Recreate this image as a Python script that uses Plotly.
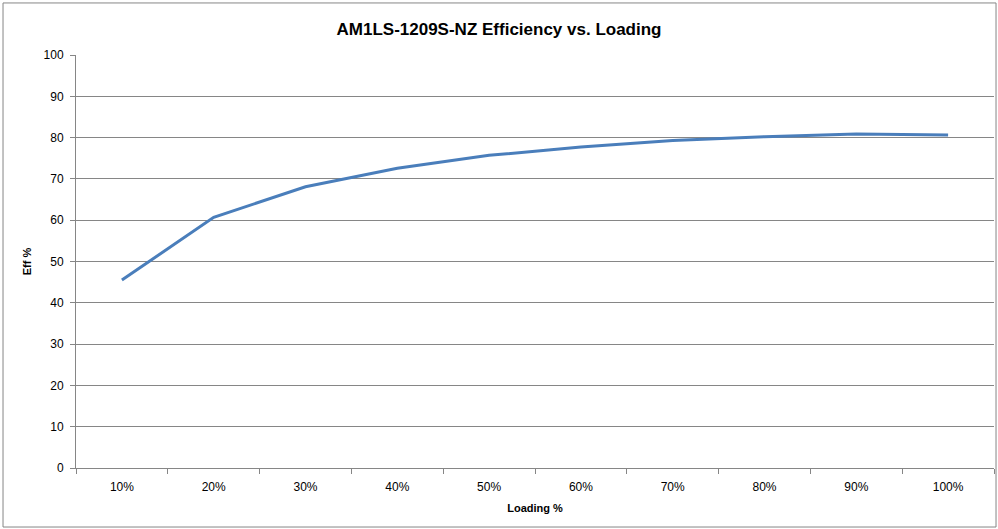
import plotly.graph_objects as go

categories = ["10%", "20%", "30%", "40%", "50%", "60%", "70%", "80%", "90%", "100%"]
efficiency = [45.5, 60.7, 68.1, 72.6, 75.7, 77.7, 79.3, 80.2, 80.9, 80.6]

font_family = "Liberation Sans Narrow, Arial Narrow, sans-serif"

fig = go.Figure()
fig.add_trace(go.Scatter(
    x=categories, y=efficiency, mode="lines",
    line=dict(color="#4a7ebb", width=3), showlegend=False,
))

fig.update_layout(
    width=998, height=529,
    margin=dict(l=76, r=4, t=55, b=61, autoexpand=False),
    paper_bgcolor="white", plot_bgcolor="white",
    title=dict(text="<b>AM1LS-1209S-NZ Efficiency vs. Loading</b>",
               font=dict(family=font_family, size=17, color="#000"),
               x=0.5, xanchor="center", y=0.946, yanchor="middle"),
    font=dict(family=font_family, size=12, color="#000"),
    xaxis=dict(type="category", tickson="boundaries", ticks="outside", ticklen=5,
               range=[-0.5, 9.5], automargin=False, ticklabelstandoff=8,
               tickcolor="#868686", showline=True, linecolor="#868686", linewidth=1,
               showgrid=False, tickfont=dict(size=12),
               title=dict(text="<b>Loading %</b>", font=dict(size=11), standoff=10)),
    yaxis=dict(range=[0, 100], dtick=10, ticks="outside", ticklen=5, automargin=False,
               ticklabelstandoff=4,
               tickcolor="#868686", showline=True, linecolor="#868686", linewidth=1,
               showgrid=True, gridcolor="#868686", gridwidth=1, zeroline=False,
               tickfont=dict(size=12),
               title=dict(text="<b>Eff %</b>", font=dict(size=11), standoff=9)),
    shapes=[dict(type="rect", xref="paper", yref="paper",
                 x0=-0.0795, x1=1.0022, y0=-0.1429, y1=1.126,
                 line=dict(color="#868686", width=1), fillcolor="rgba(0,0,0,0)",
                 layer="below")],
)

fig.write_html("out.html", config={"displayModeBar": False},
               post_script="document.body.style.margin='0';")
